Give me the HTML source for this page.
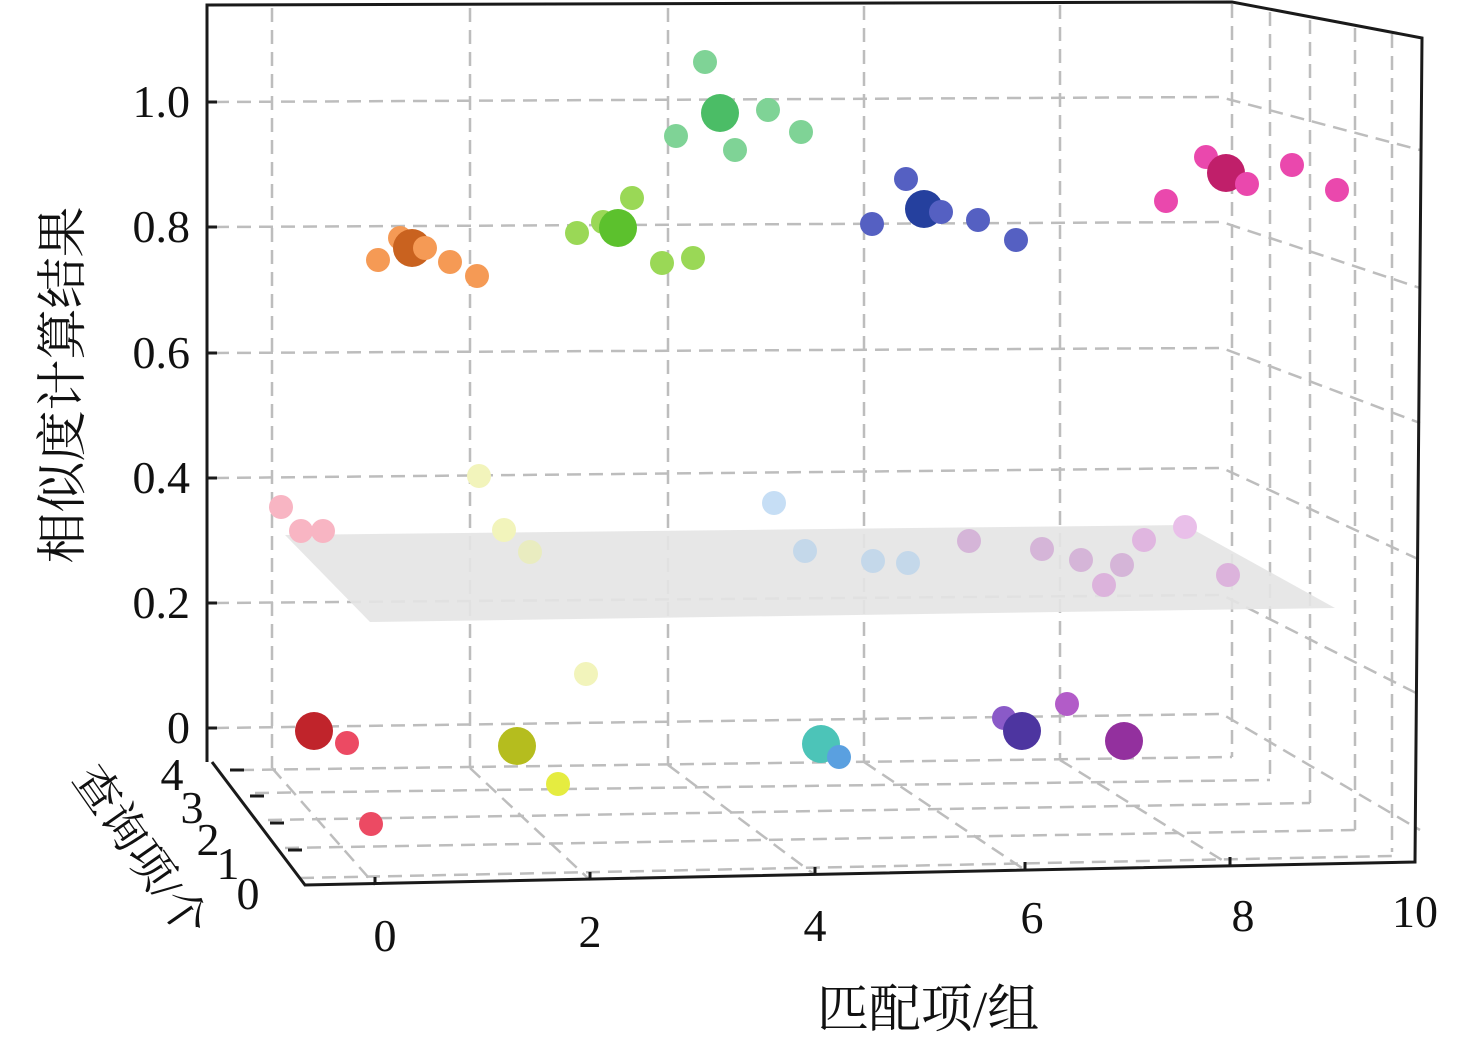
<!DOCTYPE html>
<html><head><meta charset="utf-8"><style>body{margin:0;background:#fff}svg{display:block}</style></head><body>
<svg width="1476" height="1043" viewBox="0 0 1476 1043" xmlns="http://www.w3.org/2000/svg" style="font-family:'Liberation Serif','Noto Serif CJK SC',serif">
<g stroke="#bdbdbd" stroke-width="2.5" stroke-dasharray="14,8" fill="none">
<path d="M215,102 L1220,97 L1420,150"/>
<path d="M215,227 L1222,222 L1420,288"/>
<path d="M215,353 L1222,348 L1420,423"/>
<path d="M215,478 L1222,468 L1420,560"/>
<path d="M215,603 L1222,595 L1420,695"/>
<path d="M215,728 L1222,714 L1420,830"/>
<path d="M272,8 L272,768"/><path d="M470,8 L470,768"/><path d="M668,8 L668,765"/>
<path d="M864,6 L864,762"/><path d="M1060,5 L1060,760"/><path d="M1232,4 L1232,757"/>
<path d="M1270,12 L1270,780"/><path d="M1310,20 L1310,803"/><path d="M1355,28 L1355,830"/><path d="M1392,34 L1392,852"/>
<path d="M272,768 L375,885"/><path d="M470,768 L590,880"/><path d="M668,765 L815,875"/><path d="M864,762 L1025,870"/><path d="M1060,760 L1230,865"/>
<path d="M240,770 L1232,757"/><path d="M255,793 L1270,780"/><path d="M268,820 L1310,803"/><path d="M285,848 L1355,830"/><path d="M300,878 L1392,856"/>
</g>
<polygon points="285,535 1185,525 1335,608 370,622" fill="#e4e4e4" opacity="0.9"/>
<g stroke="#1a1a1a" stroke-width="3" fill="none">
<path d="M207,762 L207,5 L1232,2 L1422,38 L1415,862 L305,885 L212,762"/>
<path d="M207,102 h10 M207,227 h10 M207,353 h10 M207,478 h10 M207,603 h10 M207,728 h10"/>
<path d="M230,770 h14 M250,796 h14 M270,823 h14 M288,850 h14"/>
<path d="M375,885 v-8 M590,880 v-8 M815,875 v-8 M1025,870 v-8 M1230,865 v-8"/>
</g>
<g font-size="46" fill="#111" text-anchor="end">
<text x="190" y="117">1.0</text><text x="190" y="242">0.8</text><text x="190" y="368">0.6</text>
<text x="190" y="493">0.4</text><text x="190" y="618">0.2</text><text x="190" y="743">0</text>
</g>
<g font-size="46" fill="#111" text-anchor="middle">
<text x="385" y="951">0</text><text x="590" y="947">2</text><text x="815" y="941">4</text>
<text x="1032" y="933">6</text><text x="1243" y="931">8</text><text x="1415" y="927">10</text>
<text x="172" y="790">4</text><text x="192" y="823">3</text><text x="208" y="855">2</text><text x="228" y="879">1</text><text x="248" y="909">0</text>
</g>
<text x="928" y="1027" font-size="52" text-anchor="middle" fill="#111">匹配项/组</text>
<text transform="translate(80,385) rotate(-90)" font-size="51" text-anchor="middle" fill="#111">相似度计算结果</text>
<text transform="translate(128,860) rotate(55)" font-size="46" text-anchor="middle" fill="#111">查询项/个</text>
<g>
<circle cx="378" cy="260" r="12" fill="#f59a55"/><circle cx="400" cy="238" r="12" fill="#f59a55"/><circle cx="450" cy="262" r="12" fill="#f59a55"/><circle cx="477" cy="276" r="12" fill="#f59a55"/><circle cx="412" cy="248" r="19" fill="#c9621f"/><circle cx="425" cy="248" r="12" fill="#f59a55"/>
<circle cx="577" cy="233" r="12" fill="#9ad856"/><circle cx="632" cy="198" r="12" fill="#9ad856"/><circle cx="603" cy="222" r="12" fill="#9ad856"/><circle cx="662" cy="263" r="12" fill="#9ad856"/><circle cx="693" cy="258" r="12" fill="#9ad856"/><circle cx="618" cy="228" r="19" fill="#5cc12d"/>
<circle cx="705" cy="62" r="12" fill="#7fd396"/><circle cx="768" cy="110" r="12" fill="#7fd396"/><circle cx="676" cy="136" r="12" fill="#7fd396"/><circle cx="735" cy="150" r="12" fill="#7fd396"/><circle cx="801" cy="132" r="12" fill="#7fd396"/><circle cx="720" cy="113" r="19" fill="#4bbd66"/>
<circle cx="906" cy="179" r="12" fill="#5560c2"/><circle cx="872" cy="224" r="12" fill="#5560c2"/><circle cx="978" cy="220" r="12" fill="#5560c2"/><circle cx="1016" cy="240" r="12" fill="#5560c2"/><circle cx="924" cy="209" r="19" fill="#25409e"/><circle cx="941" cy="212" r="12" fill="#5560c2"/>
<circle cx="1166" cy="201" r="12" fill="#ea48ad"/><circle cx="1206" cy="157" r="12" fill="#ea48ad"/><circle cx="1292" cy="165" r="12" fill="#ea48ad"/><circle cx="1337" cy="190" r="12" fill="#ea48ad"/><circle cx="1226" cy="173" r="19" fill="#c01f6a"/><circle cx="1247" cy="184" r="12" fill="#ea48ad"/>
<circle cx="281" cy="507" r="12" fill="#f8b5c3"/><circle cx="301" cy="531" r="12" fill="#f8b5c3"/><circle cx="323" cy="531" r="12" fill="#f8b5c3"/>
<circle cx="479" cy="476" r="12" fill="#f2f4bb"/><circle cx="504" cy="530" r="12" fill="#f2f4bb"/><circle cx="530" cy="552" r="12" fill="#e9ecc0"/><circle cx="586" cy="674" r="12" fill="#f2f4bb"/>
<circle cx="774" cy="503" r="12" fill="#c6def5"/><circle cx="805" cy="551" r="12" fill="#c4d8ea"/><circle cx="873" cy="561" r="12" fill="#c4d8ea"/><circle cx="908" cy="563" r="12" fill="#c4d8ea"/>
<circle cx="969" cy="541" r="12" fill="#d5b5d8"/><circle cx="1042" cy="549" r="12" fill="#d5b5d8"/><circle cx="1081" cy="560" r="12" fill="#d5b5d8"/><circle cx="1122" cy="565" r="12" fill="#d5b5d8"/><circle cx="1104" cy="585" r="12" fill="#dcb3dc"/><circle cx="1144" cy="540" r="12" fill="#e0b6e0"/><circle cx="1185" cy="527" r="12" fill="#e9bfe9"/><circle cx="1228" cy="575" r="12" fill="#dcb3dc"/>
<circle cx="314" cy="731" r="19" fill="#c0242b"/><circle cx="347" cy="743" r="12" fill="#ec4a63"/><circle cx="371" cy="824" r="12" fill="#ec4a63"/>
<circle cx="517" cy="746" r="19" fill="#b5bd1e"/><circle cx="558" cy="784" r="12" fill="#e5ec40"/>
<circle cx="821" cy="744" r="19" fill="#4cc4b8"/><circle cx="839" cy="757" r="12" fill="#5aa0e0"/>
<circle cx="1004" cy="718" r="12" fill="#8a5ac8"/><circle cx="1022" cy="731" r="19" fill="#4d35a0"/><circle cx="1067" cy="704" r="12" fill="#b25cc8"/><circle cx="1124" cy="741" r="19" fill="#93309e"/>
</g>
</svg>
</body></html>
